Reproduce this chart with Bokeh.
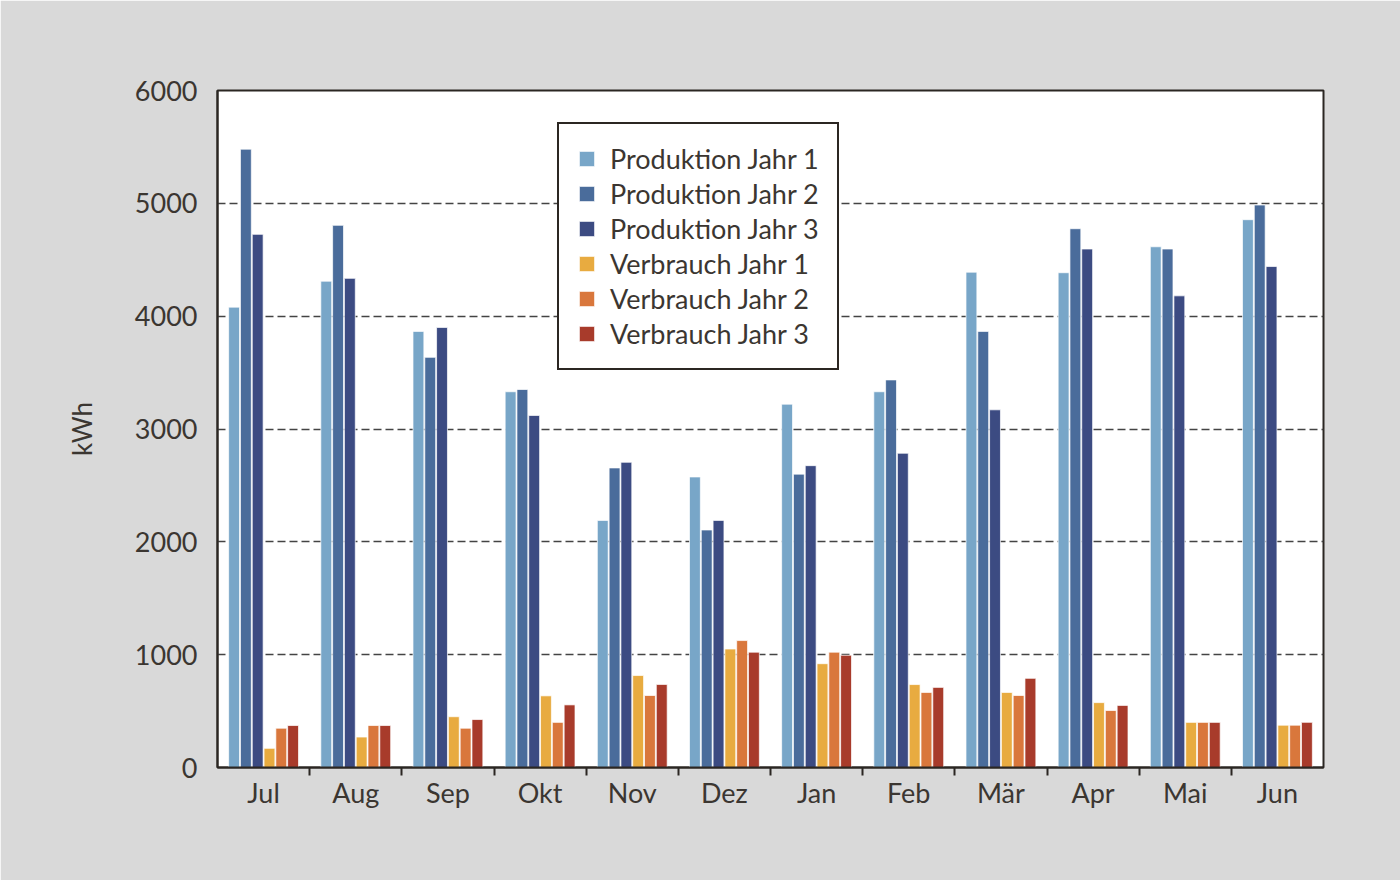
from bokeh.plotting import figure
from bokeh.models import ColumnDataSource, FixedTicker, Legend, LegendItem, Range1d
from bokeh.transform import dodge
from bokeh.embed import file_html
from bokeh.resources import INLINE

# Monthly energy figures (kWh), July to June
months = ["Jul", "Aug", "Sep", "Okt", "Nov", "Dez", "Jan", "Feb", "Mär", "Apr", "Mai", "Jun"]

produktion_1 = [4080, 4310, 3865, 3330, 2190, 2575, 3220, 3330, 4390, 4385, 4615, 4855]
produktion_2 = [5480, 4805, 3635, 3350, 2655, 2105, 2600, 3435, 3865, 4775, 4595, 4985]
produktion_3 = [4725, 4335, 3900, 3120, 2705, 2190, 2675, 2785, 3170, 4595, 4180, 4440]
verbrauch_1 = [170, 270, 450, 635, 815, 1050, 920, 735, 665, 575, 400, 375]
verbrauch_2 = [348, 372, 348, 400, 638, 1125, 1022, 665, 638, 505, 400, 375]
verbrauch_3 = [372, 372, 425, 555, 736, 1022, 995, 710, 790, 550, 400, 400]

y_ticks = [0, 1000, 2000, 3000, 4000, 5000, 6000]

series = [
    ("Produktion Jahr 1", produktion_1, "#78a6c8"),
    ("Produktion Jahr 2", produktion_2, "#4a6c9b"),
    ("Produktion Jahr 3", produktion_3, "#3c4b82"),
    ("Verbrauch Jahr 1", verbrauch_1, "#e8ab40"),
    ("Verbrauch Jahr 2", verbrauch_2, "#d9773c"),
    ("Verbrauch Jahr 3", verbrauch_3, "#a83b2b"),
]

centers = [i + 0.5 for i in range(len(months))]
data = {"x": centers}
for idx, (_, vals, _) in enumerate(series):
    data[f"s{idx}"] = vals
source = ColumnDataSource(data)

TEXT = "#3b3631"
FRAME = "#2b2622"
FONT = "Lato"

p = figure(
    width=1400, height=880,
    x_range=Range1d(0, len(months)), y_range=Range1d(0, 6000),
    output_backend="svg", toolbar_location=None,
    min_border_left=217, min_border_right=77,
    min_border_top=90, min_border_bottom=113,
)
p.background_fill_color = "white"
p.border_fill_color = "#d9d9d9"
p.outline_line_color = FRAME
p.outline_line_width = 2

slot = 0.128
items = []
for idx, (label, _, color) in enumerate(series):
    r = p.vbar(
        x=dodge("x", (idx - 2.5) * slot, range=p.x_range),
        top=f"s{idx}", width=0.118, source=source,
        fill_color=color, line_color="white", line_width=1, line_alpha=0.7,
    )
    items.append(LegendItem(label=label, renderers=[r]))

# x axis: month names at group centers, tick marks between groups
xa = p.xaxis[0]
xa.ticker = FixedTicker(ticks=centers, minor_ticks=list(range(1, len(months))))
xa.major_label_overrides = {c: m for c, m in zip(centers, months)}
xa.major_tick_out = 0
xa.major_tick_in = 0
xa.minor_tick_out = 8
xa.minor_tick_in = 0
xa.minor_tick_line_color = FRAME
xa.minor_tick_line_width = 2
xa.axis_line_color = FRAME
xa.axis_line_width = 2
xa.major_label_text_font = FONT
xa.major_label_text_font_size = "27px"
xa.major_label_text_color = TEXT
xa.major_label_standoff = 0

ya = p.yaxis[0]
ya.ticker = FixedTicker(ticks=y_ticks)
ya.major_tick_out = 0
ya.major_tick_in = 0
ya.minor_tick_line_color = None
ya.axis_line_color = FRAME
ya.axis_line_width = 2
ya.major_label_text_font = FONT
ya.major_label_text_font_size = "27px"
ya.major_label_text_color = TEXT
ya.major_label_standoff = 20
ya.axis_label = "kWh"
ya.axis_label_text_font = FONT
ya.axis_label_text_font_size = "26px"
ya.axis_label_text_font_style = "normal"
ya.axis_label_text_color = TEXT
ya.axis_label_standoff = 34

p.xgrid.grid_line_color = None
p.ygrid.ticker = FixedTicker(ticks=[1000, 2000, 3000, 4000, 5000])
p.ygrid.grid_line_color = "#444444"
p.ygrid.grid_line_dash = "8 4"
p.ygrid.grid_line_width = 1.3

legend = Legend(
    items=items, location=(340, 397),
    border_line_color=FRAME, border_line_width=2, border_line_alpha=1,
    background_fill_color="white", background_fill_alpha=1,
    label_text_font=FONT, label_text_font_size="27px", label_text_color=TEXT,
    glyph_width=19, glyph_height=19, spacing=2, padding=18, margin=0,
    label_standoff=14,
)
p.add_layout(legend, "center")

open("out.html", "w").write(file_html(p, INLINE))
